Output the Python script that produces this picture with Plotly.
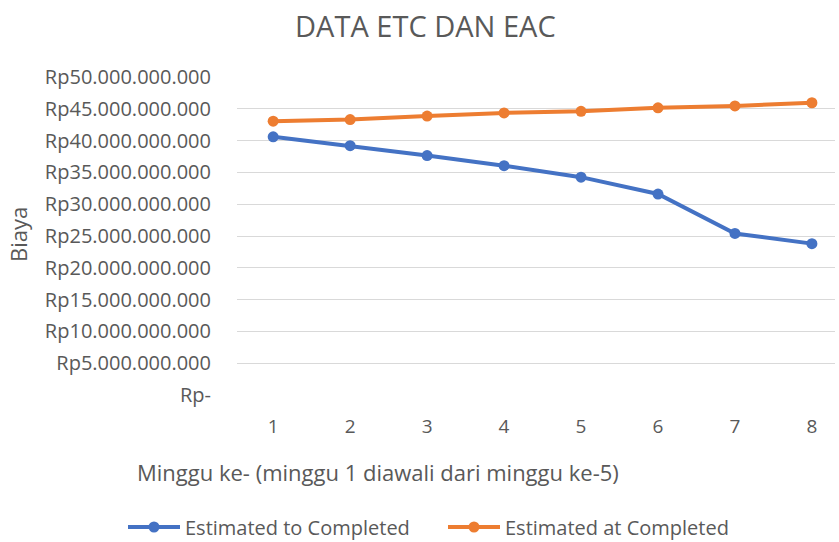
import plotly.graph_objects as go

weeks = [1, 2, 3, 4, 5, 6, 7, 8]
etc_values = [40.6e9, 39.2e9, 37.65e9, 36.05e9, 34.25e9, 31.6e9, 25.4e9, 23.8e9]
eac_values = [43.05e9, 43.3e9, 43.85e9, 44.35e9, 44.6e9, 45.15e9, 45.45e9, 45.95e9]
y_tick_vals = [0, 5e9, 10e9, 15e9, 20e9, 25e9, 30e9, 35e9, 40e9, 45e9, 50e9]
y_tick_text = ["Rp-", "Rp5.000.000.000", "Rp10.000.000.000", "Rp15.000.000.000",
               "Rp20.000.000.000", "Rp25.000.000.000", "Rp30.000.000.000",
               "Rp35.000.000.000", "Rp40.000.000.000", "Rp45.000.000.000",
               "Rp50.000.000.000"]

FONT = "Open Sans"
GREY = "#595959"

fig = go.Figure()
fig.add_trace(go.Scatter(x=weeks, y=etc_values, mode="lines+markers",
                         name="Estimated to Completed", legend="legend",
                         line=dict(color="#4472C4", width=4),
                         marker=dict(size=11, color="#4472C4")))
fig.add_trace(go.Scatter(x=weeks, y=eac_values, mode="lines+markers",
                         name="Estimated at Completed", legend="legend2",
                         line=dict(color="#ED7D31", width=4),
                         marker=dict(size=11, color="#ED7D31")))

legend_common = dict(orientation="h", xref="container", yref="container",
                     xanchor="left", y=15 / 542, yanchor="middle",
                     font=dict(size=20, color=GREY, family=FONT),
                     itemwidth=52, bgcolor="rgba(0,0,0,0)")

fig.update_layout(
    width=839, height=542,
    margin=dict(l=237, r=4, t=77, b=147),
    paper_bgcolor="white", plot_bgcolor="white",
    font=dict(family=FONT, color=GREY, size=19),
    title=dict(text="DATA ETC DAN EAC", x=0.507, xref="container", xanchor="center",
               y=1 - 27 / 542, yref="container", yanchor="middle",
               font=dict(size=29, color=GREY, family=FONT)),
    showlegend=True,
    legend=dict(x=123 / 839, **legend_common),
    legend2=dict(x=443 / 839, **legend_common),
    xaxis=dict(range=[0.53, 8.3], tickvals=weeks, ticktext=[str(w) for w in weeks],
               showgrid=False, zeroline=False, showline=False,
               ticks="outside", ticklen=14, tickcolor="rgba(0,0,0,0)",
               tickfont=dict(size=19, color=GREY), fixedrange=True),
    yaxis=dict(range=[0, 50e9], tickvals=y_tick_vals, ticktext=y_tick_text,
               showgrid=True, gridcolor="#D9D9D9", gridwidth=1,
               zeroline=False, showline=False,
               ticks="outside", ticklen=21, tickcolor="rgba(0,0,0,0)",
               tickfont=dict(size=20, color=GREY), fixedrange=True),
    annotations=[
        dict(text="Minggu ke- (minggu 1 diawali dari minggu ke-5)",
             xref="paper", yref="paper", x=(378 - 237) / 598, y=(395 - 472) / 318,
             xanchor="center", yanchor="middle", showarrow=False,
             font=dict(size=22, color=GREY, family=FONT)),
        dict(text="Biaya", xref="paper", yref="paper",
             x=(18 - 237) / 598, y=(395 - 235) / 318, textangle=-90,
             xanchor="center", yanchor="middle", showarrow=False,
             font=dict(size=22, color=GREY, family=FONT)),
    ],
)

fig.write_html("out.html", config={"displayModeBar": False},
               post_script="document.body.style.margin='0';")
